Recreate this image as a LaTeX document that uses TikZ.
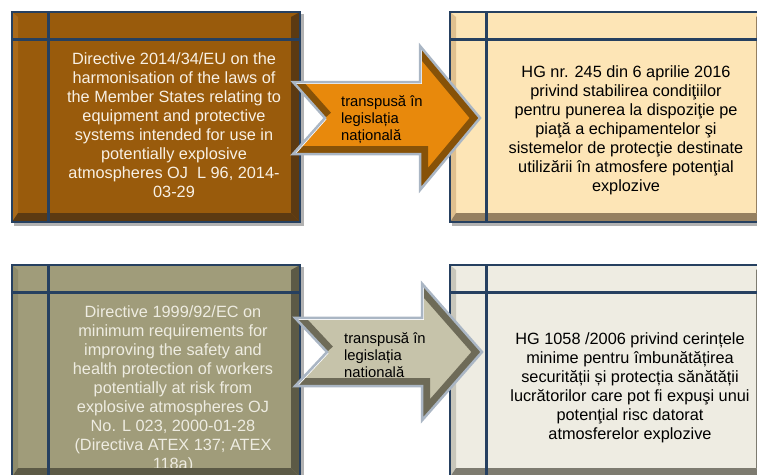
\documentclass[tikz,border=0pt]{standalone}
\usepackage{fontspec}
\setmainfont{Liberation Sans}
\usepackage{tikz}
\usetikzlibrary{positioning}

\definecolor{frameblue}{RGB}{38,64,96}
\definecolor{dirbrown}{RGB}{153,91,12}
\definecolor{dirbrownlt}{RGB}{170,106,26}
\definecolor{dirbrowndk}{RGB}{92,58,18}
\definecolor{dirolive}{RGB}{160,156,122}
\definecolor{dirolivelt}{RGB}{142,139,107}
\definecolor{diroliverdk}{RGB}{92,90,70}
\definecolor{hgpeach}{RGB}{253,229,182}
\definecolor{hgpeachlt}{RGB}{224,192,142}
\definecolor{hgpeachdk}{RGB}{150,128,96}
\definecolor{hggrey}{RGB}{238,236,226}
\definecolor{hggreylt}{RGB}{200,198,186}
\definecolor{hggreydk}{RGB}{125,123,112}
\definecolor{arroworange}{RGB}{232,137,12}
\definecolor{arroworangedk}{RGB}{135,82,8}
\definecolor{arrowkhaki}{RGB}{198,195,170}
\definecolor{arrowkhakidk}{RGB}{110,107,88}
\definecolor{arrowrim}{RGB}{170,182,196}
\definecolor{creamtext}{RGB}{248,240,228}
\definecolor{palettext}{RGB}{238,236,225}

\tikzset{
  framebox/.style={draw=frameblue, line width=2.5, rectangle, inner sep=0pt, outer sep=0pt},
  gridline/.style={frameblue, line width=3},
  halo/.style={black!30, line width=2.5},
  boxtext/.style={align=center, inner sep=0pt, font=\fontsize{16.3}{19}\selectfont},
  arrowtext/.style={align=left, inner sep=0pt, anchor=west, font=\fontsize{14.8}{17}\selectfont},
  arrowedge/.style={draw=arrowrim, line width=2.5, line join=miter},
}

% bevel strips, frame lines and border of a box node
\newcommand{\bevelbox}[3]{%
  \fill[#2] (#1.north west) -- (#1.south west) -- ([shift={(6,-9)}]#1.south west) -- ([shift={(6,5)}]#1.north west) -- cycle;
  \fill[#3] (#1.south west) -- (#1.south east) -- ([shift={(-9,-9)}]#1.south east) -- ([shift={(6,-9)}]#1.south west) -- cycle;
  \fill[#3] (#1.south east) -- (#1.north east) -- ([shift={(-9,5)}]#1.north east) -- ([shift={(-9,-9)}]#1.south east) -- cycle;
  \draw[halo] ([shift={(2.5,2)}]#1.north east) -- ([shift={(2.5,2.5)}]#1.south east) -- ([shift={(2,2.5)}]#1.south west);
  \draw[gridline] ([shift={(36,0)}]#1.north west) -- ([shift={(36,0)}]#1.south west);
  \draw[gridline] ([shift={(0,27)}]#1.north west) -- ([shift={(0,27)}]#1.north east);
  \draw[framebox] (#1.north west) rectangle (#1.south east);
}
\newcommand{\arrowshape}{(0,-36) -- (127,-36) -- (127,-72) -- (187,0) -- (127,72) -- (127,36) -- (0,36) -- (32,0) -- cycle}

\begin{document}
\begin{tikzpicture}[x=1pt, y=-1pt]
  \useasboundingbox (0,0) rectangle (757,474);
  \clip (0,0) rectangle (757,474);

  % Top row
  \node (dir1) [framebox, fill=dirbrown, minimum width=288, minimum height=210] at (156,117) {};
  \node (dir1text) [boxtext, text=creamtext] at ([shift={(18,8)}]dir1.center)
    {Directive 2014/34/EU on the\\harmonisation of the laws of\\the Member States relating to\\equipment and protective\\systems intended for use in\\potentially explosive\\atmospheres OJ\ \ L 96, 2014-\\03-29};
  \bevelbox{dir1}{dirbrownlt}{dirbrowndk}

  \node (hg1) [framebox, fill=hgpeach, minimum width=315, minimum height=210] at (607.5,117) {};
  \node (hg1text) [boxtext] at ([shift={(18.5,13.5)}]hg1.center)
    {HG nr. 245 din 6 aprilie 2016\\privind stabilirea condiţiilor\\pentru punerea la dispoziţie pe\\piaţă a echipamentelor şi\\sistemelor de protecţie destinate\\utilizării în atmosfere potenţial\\explozive};
  \bevelbox{hg1}{hgpeachlt}{hgpeachdk}

  \begin{scope}[shift={([shift={(-7,1)}]dir1.east)}]
    \begin{scope}
      \clip \arrowshape;
      \fill[arroworange] \arrowshape;
      \draw[line width=16, arroworangedk] (127,-72) -- (187,0) -- (127,72) -- (127,36) -- (0,36);
      \draw[line width=16, arroworangedk] (32,0) -- (0,-36);
      \draw[line width=4, white] (0,-36) -- (127,-36) -- (127,-72);
      \draw[line width=4, white] (0,36) -- (32,0);
    \end{scope}
    \draw[arrowedge] \arrowshape;
    \node (transp1) [arrowtext] at (48,2) {transpusă în\\legislația\\națională};
  \end{scope}

  % Bottom row
  \node (dir2) [framebox, fill=dirolive, minimum width=288, minimum height=212] at (156,371) {};
  \node (dir2text) [boxtext, text=palettext] at ([shift={(17,18.5)}]dir2.center)
    {Directive 1999/92/EC on\\minimum requirements for\\improving the safety and\\health protection of workers\\potentially at risk from\\explosive atmospheres OJ\\No. L 023, 2000-01-28\\(Directiva ATEX 137; ATEX\\118a)};
  \bevelbox{dir2}{dirolivelt}{diroliverdk}

  \node (hg2) [framebox, fill=hggrey, minimum width=315, minimum height=212] at (607.5,371) {};
  \node (hg2text) [boxtext] at ([shift={(22.5,17)}]hg2.center)
    {HG 1058 /2006 privind cerințele\\minime pentru îmbunătățirea\\securității și protecția sănătății\\lucrătorilor care pot fi expuşi unui\\potenţial risc datorat\\atmosferelor explozive};
  \bevelbox{hg2}{hggreylt}{hggreydk}

  \begin{scope}[shift={([shift={(-5,-19)}]dir2.east)}, yscale=0.95]
    \begin{scope}
      \clip \arrowshape;
      \fill[arrowkhaki] \arrowshape;
      \draw[line width=16, arrowkhakidk] (127,-72) -- (187,0) -- (127,72) -- (127,36) -- (0,36);
      \draw[line width=16, arrowkhakidk] (32,0) -- (0,-36);
      \draw[line width=4, white] (0,-36) -- (127,-36) -- (127,-72);
      \draw[line width=4, white] (0,36) -- (32,0);
    \end{scope}
    \draw[arrowedge] \arrowshape;
    \node (transp2) [arrowtext] at (49,3) {transpusă în\\legislația\\natională};
  \end{scope}
\end{tikzpicture}
\end{document}
